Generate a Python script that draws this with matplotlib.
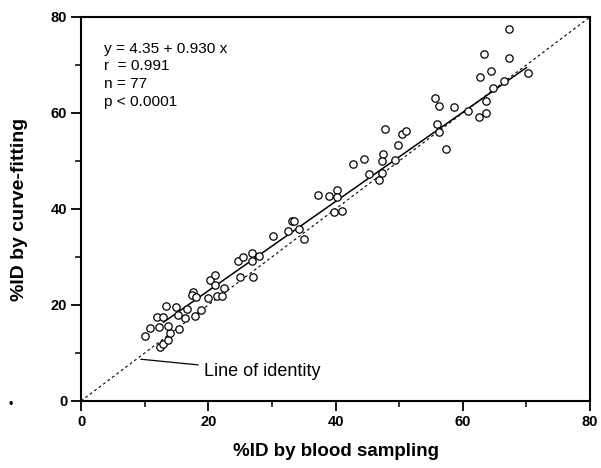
import matplotlib
matplotlib.use("Agg")
import matplotlib.pyplot as plt
from matplotlib.ticker import MultipleLocator

plt.rcParams['font.family'] = ['Liberation Sans', 'DejaVu Sans']

# %ID by blood sampling (x) and %ID by curve-fitting (y)
blood_x = [10.1, 10.8, 12.2, 11.9, 12.9, 13.4, 15.0, 12.4, 12.9, 13.6,
           14.0, 13.7, 15.4, 15.3, 16.4, 16.7, 17.9, 18.8, 17.6, 17.4,
           18.0, 20.0, 21.4, 22.1, 22.4, 20.3, 21.1, 21.1, 24.6, 25.5,
           25.0, 27.0, 26.8, 26.9, 28.0, 30.2, 32.5, 33.2, 33.5, 34.3,
           35.1, 37.3, 39.0, 40.3, 40.3, 39.8, 41.0, 42.8, 44.5, 47.8,
           50.4, 51.1, 47.4, 47.3, 49.9, 49.3, 45.3, 47.3, 46.9, 55.7,
           56.3, 56.0, 56.2, 57.3, 58.7, 60.8, 62.6, 63.7, 63.6, 64.8,
           66.5, 67.2, 63.3, 67.2, 64.5, 62.7, 70.2]
curve_y = [13.5, 15.3, 15.4, 17.4, 17.4, 19.8, 19.5, 11.2, 11.9, 12.7,
           14.2, 15.6, 15.1, 17.9, 17.2, 19.1, 17.7, 19.0, 22.8, 22.1,
           21.7, 21.5, 21.9, 21.9, 23.5, 25.3, 26.3, 24.2, 29.2, 29.9,
           25.8, 25.8, 29.2, 30.9, 30.2, 34.4, 35.4, 37.4, 37.5, 35.8,
           33.7, 42.9, 42.7, 44.0, 42.4, 39.3, 39.6, 49.4, 50.5, 56.6,
           55.6, 56.3, 51.5, 49.9, 53.3, 50.2, 47.2, 47.6, 46.0, 63.2,
           61.5, 57.8, 56.0, 52.6, 61.2, 60.4, 59.1, 59.9, 62.6, 65.3,
           66.6, 77.5, 72.2, 71.5, 68.8, 67.4, 68.4]

intercept = 4.35
slope = 0.930
fit_range = [13.0, 70.0]
identity_range = [0, 80]

stats_lines = ["y = 4.35 + 0.930 x", "r  = 0.991", "n = 77", "p < 0.0001"]

fig = plt.figure(figsize=(6.01, 4.68), dpi=100)
ax = fig.add_axes([0.1348, 0.1432, 0.8469, 0.8205])

ax.plot(identity_range, identity_range, linestyle=(0, (2.5, 2.5)), color='black', lw=0.8, zorder=1)
ax.plot(fit_range, [intercept + slope * v for v in fit_range], color='black', lw=1.1, zorder=2)
ax.plot(blood_x, curve_y, linestyle='none', marker='o', markersize=5.3,
        markerfacecolor='white', markeredgecolor='black', markeredgewidth=0.9, zorder=3)

ax.set_xlim(0, 80)
ax.set_ylim(0, 80)
ax.xaxis.set_major_locator(MultipleLocator(20))
ax.yaxis.set_major_locator(MultipleLocator(20))
ax.xaxis.set_minor_locator(MultipleLocator(10))
ax.yaxis.set_minor_locator(MultipleLocator(10))
ax.tick_params(which='major', direction='out', length=7, width=1.3, labelsize=10.5, pad=3)
ax.tick_params(which='minor', direction='out', length=4, width=1.1)
for lab in ax.get_xticklabels() + ax.get_yticklabels():
    lab.set_fontweight('bold')
for s in ax.spines.values():
    s.set_linewidth(1.5)

ax.set_xlabel('%ID by blood sampling', fontsize=13.5, fontweight='bold', labelpad=10)
ax.set_ylabel('%ID by curve-fitting', fontsize=14, fontweight='bold', labelpad=16)

ax.text(3.6, 74.8, "\n".join(stats_lines), fontsize=11.1, va='top', ha='left', linespacing=1.32)

ax.annotate('Line of identity', xy=(9.4, 8.7), xytext=(19.3, 6.2),
            fontsize=13, va='center', ha='left',
            arrowprops=dict(arrowstyle='-', color='black', lw=0.9, shrinkA=2, shrinkB=0))

fig.text(0.017, 0.135, '•', fontsize=9, ha='center', va='center')

fig.savefig('out.png', dpi=100)
